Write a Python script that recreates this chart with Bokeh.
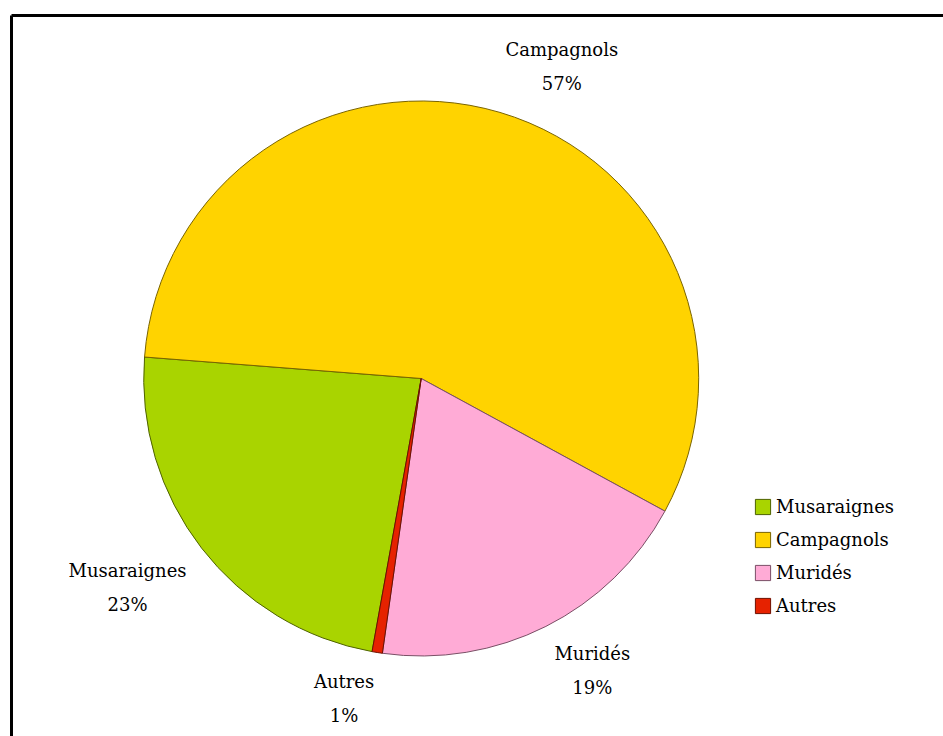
import math
from bokeh.plotting import figure
from bokeh.models import ColumnDataSource, Range1d, LinearAxis, FixedTicker
from bokeh.core.properties import value
from bokeh.embed import file_html
from bokeh.resources import INLINE

# ---- data ----
categories = ["Musaraignes", "Campagnols", "Muridés", "Autres"]
percent = [23.4, 56.7, 19.3, 0.6]
colors = ["#A9D400", "#FFD300", "#FFABD6", "#E62200"]
outline_colors = ["#4E6200", "#7A6400", "#7A4F66", "#6E1000"]

# ---- layout constants ----
FRAME_W, FRAME_H = 932, 721
CX, CY = 409.7, 358.0        # pie centre in frame pixels (data units = pixels)
R = 277.5                    # pie radius, screen pixels
START = 259.8                # angle (deg) where the first slice begins, going clockwise
LABEL_GAP = 19
FONT = "DejaVu Serif"

total = sum(percent)
starts, ends, lx, ly, anchors, texts = [], [], [], [], [], []
a = START
for name, v in zip(categories, percent):
    sweep = 360.0 * v / total
    s, e = a, a - sweep
    starts.append(s)
    ends.append(e)
    mid = math.radians((s + e) / 2.0)
    c, sn = math.cos(mid), math.sin(mid)
    lx.append(CX + (R + LABEL_GAP) * c)
    ly.append(CY + (R + LABEL_GAP) * sn)
    vert = "bottom" if sn >= 0 else "top"
    hor = "left" if c >= 0 else "right"
    anchors.append(f"{vert}_{hor}")
    texts.append(f"{name}\n{round(v)}%")
    a = e

src = ColumnDataSource(dict(cat=categories, start=starts, end=ends,
                            color=colors, line=outline_colors,
                            x=[CX] * 4, y=[CY] * 4))
lab = ColumnDataSource(dict(x=lx, y=ly, text=texts, anchor=anchors))

p = figure(frame_width=FRAME_W, frame_height=FRAME_H,
           x_range=Range1d(0, FRAME_W), y_range=Range1d(0, FRAME_H),
           output_backend="svg", toolbar_location=None,
           min_border_left=11, min_border_top=15, min_border_right=0, min_border_bottom=0)
p.axis.visible = False
p.grid.visible = False
p.outline_line_color = None
p.background_fill_color = "white"
p.border_fill_color = "white"

# border lines (top & left only visible)
for side in ("left", "above"):
    ax = LinearAxis(ticker=FixedTicker(ticks=[]), axis_line_width=3, axis_line_color="black",
                    major_tick_line_color=None, minor_tick_line_color=None,
                    major_tick_out=0, major_tick_in=0, major_label_standoff=0,
                    major_label_text_font_size="0px")
    p.add_layout(ax, side)

p.wedge(x="x", y="y", radius=R, radius_units="screen",
        start_angle="start", end_angle="end", start_angle_units="deg", end_angle_units="deg",
        direction="clock", fill_color="color", line_color="line", line_width=1,
        legend_field="cat", source=src)

p.text(x="x", y="y", text="text", anchor="anchor", source=lab,
       text_align="center", text_font=value(FONT), text_font_size="18px",
       text_color="black", text_line_height=1.62)

lg = p.legend[0]
lg.location = (742, 118)
lg.background_fill_alpha = 0
lg.border_line_color = None
lg.padding = 0
lg.margin = 0
lg.spacing = 8
lg.glyph_width = 19
lg.glyph_height = 19
lg.label_height = 25
lg.label_standoff = 4
lg.label_text_font = FONT
lg.label_text_font_size = "18px"
lg.label_text_color = "black"

open("out.html", "w").write(file_html(p, INLINE))
